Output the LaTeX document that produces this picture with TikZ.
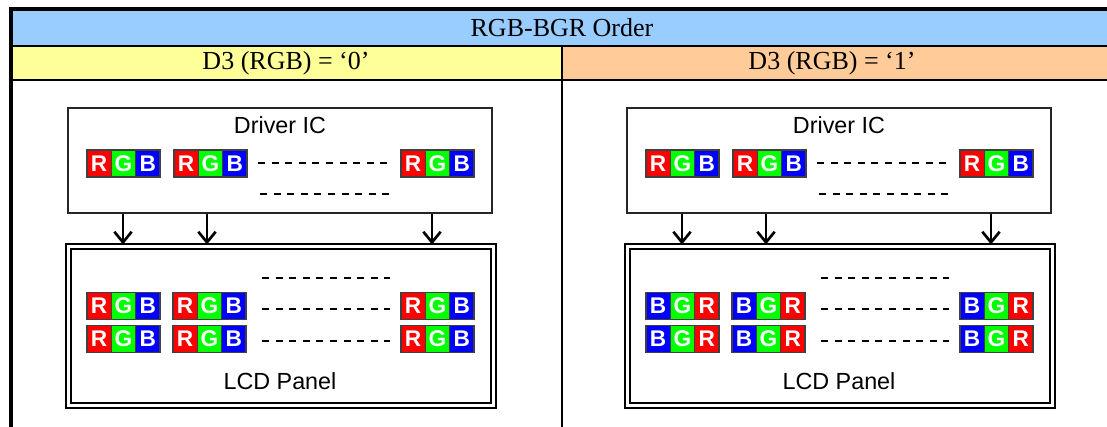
\documentclass[tikz,border=0pt]{standalone}
\usepackage{fontspec}
\setmainfont{Liberation Serif}
\newfontfamily\arialfont{Liberation Sans}
\usetikzlibrary{arrows.meta}
\definecolor{hdrblue}{HTML}{99CCFF}
\definecolor{hdryellow}{HTML}{FFFF99}
\definecolor{hdrorange}{HTML}{FFCC99}
\definecolor{pxred}{HTML}{FF0000}
\definecolor{pxgreen}{HTML}{00FF00}
\definecolor{pxblue}{HTML}{0000FF}
\newcommand\rgbgrp[4]{%
  \foreach \t/\c [count=\i from 0] in {#4}{%
    \node[pixcell, fill=\c] (#1-\i) at ({#2+12.17+\i*24.33}, #3) {\t};
  }%
}
\tikzset{
  pixcell/.style={draw=black!75, line width=0.9pt, minimum width=18.25pt, minimum height=20.25pt,
    inner sep=0pt, text=white, font=\arialfont\bfseries\fontsize{17}{17}\selectfont},
  hdr/.style={font=\fontsize{19.5}{19.5}\selectfont, inner sep=0pt},
  lbl/.style={font=\arialfont\fontsize{17.5}{17.5}\selectfont, inner sep=0pt},
  drvbox/.style={draw=black!85, line width=1.1pt, minimum width=318pt, minimum height=78.75pt, inner sep=0pt},
  lcdbox/.style={draw=black, double=white, line width=1.4pt, double distance=2.2pt,
    minimum width=318.75pt, minimum height=119.25pt, inner sep=0pt},
  arr/.style={line width=1.5pt, -{Straight Barb[length=8pt,width=13pt,line width=2pt]}},
  dashln/.style={line width=1.4pt, dash pattern=on 5.3pt off 4.9pt}
}
\begin{document}
\begin{tikzpicture}[x=0.75pt, y=-0.75pt]
\useasboundingbox (0,0) rectangle (1107,427);
\clip (0,0) rectangle (1107,427);
\fill[white] (0,0) rectangle (1107,427);
% header bands
\fill[hdrblue] (11,9) rectangle (1120,46);
\fill[hdryellow] (11,46) rectangle (562,80);
\fill[hdrorange] (562,46) rectangle (1120,80);
\draw[line width=1.5pt] (11,46) -- (1120,46);
\draw[line width=1.5pt] (11,80) -- (1120,80);
\draw[line width=1.5pt] (562,46) -- (562,440);
\draw[line width=3pt] (11,440) -- (11,9) -- (1120,9);
\node[hdr] (title) at (562,28) {RGB-BGR Order};
\node[hdr] (hL) at (286,63) {D3 (RGB) = ‘0’};
\node[hdr] (hR) at (832,63) {D3 (RGB) = ‘1’};
% ---------- left panel ----------
\node[drvbox] (drvL) at (280,160.5) {};
\node[lbl] (drvLt) at (280,125) {Driver IC};
\rgbgrp{dL1}{87}{163.5}{R/pxred,G/pxgreen,B/pxblue}
\rgbgrp{dL2}{174}{163.5}{R/pxred,G/pxgreen,B/pxblue}
\rgbgrp{dL3}{401}{163.5}{R/pxred,G/pxgreen,B/pxblue}
\draw[dashln] (258,163) -- (388,163);
\draw[dashln] (260,194) -- (390,194);
\node[lcdbox] (lcdL) at (281,326) {};
\node[lbl] (lcdLt) at (280,381) {LCD Panel};
\rgbgrp{pL1}{87}{306}{R/pxred,G/pxgreen,B/pxblue}
\rgbgrp{pL2}{173}{306}{R/pxred,G/pxgreen,B/pxblue}
\rgbgrp{pL3}{401}{306}{R/pxred,G/pxgreen,B/pxblue}
\rgbgrp{pL4}{87}{339}{R/pxred,G/pxgreen,B/pxblue}
\rgbgrp{pL5}{173}{339}{R/pxred,G/pxgreen,B/pxblue}
\rgbgrp{pL6}{401}{339}{R/pxred,G/pxgreen,B/pxblue}
\draw[dashln] (262,278) -- (390,278);
\draw[dashln] (262,309) -- (390,309);
\draw[dashln] (262,341) -- (390,341);
\coordinate (aL1) at (123,0);
\coordinate (aL2) at (207,0);
\coordinate (aL3) at (432,0);
\foreach \a in {aL1,aL2,aL3}{
  \draw[arr] (\a |- drvL.south) -- ([yshift=0.8pt]\a |- lcdL.north);
}
% ---------- right panel ----------
\node[drvbox] (drvR) at (839,160.5) {};
\node[lbl] (drvRt) at (839,125) {Driver IC};
\rgbgrp{dR1}{646}{163.5}{R/pxred,G/pxgreen,B/pxblue}
\rgbgrp{dR2}{733}{163.5}{R/pxred,G/pxgreen,B/pxblue}
\rgbgrp{dR3}{960}{163.5}{R/pxred,G/pxgreen,B/pxblue}
\draw[dashln] (817,163) -- (947,163);
\draw[dashln] (819,194) -- (949,194);
\node[lcdbox] (lcdR) at (840,326) {};
\node[lbl] (lcdRt) at (839,381) {LCD Panel};
\rgbgrp{pR1}{646}{306}{B/pxblue,G/pxgreen,R/pxred}
\rgbgrp{pR2}{732}{306}{B/pxblue,G/pxgreen,R/pxred}
\rgbgrp{pR3}{960}{306}{B/pxblue,G/pxgreen,R/pxred}
\rgbgrp{pR4}{646}{339}{B/pxblue,G/pxgreen,R/pxred}
\rgbgrp{pR5}{732}{339}{B/pxblue,G/pxgreen,R/pxred}
\rgbgrp{pR6}{960}{339}{B/pxblue,G/pxgreen,R/pxred}
\draw[dashln] (821,278) -- (949,278);
\draw[dashln] (821,309) -- (949,309);
\draw[dashln] (821,341) -- (949,341);
\coordinate (aR1) at (682,0);
\coordinate (aR2) at (766,0);
\coordinate (aR3) at (991,0);
\foreach \a in {aR1,aR2,aR3}{
  \draw[arr] (\a |- drvR.south) -- ([yshift=0.8pt]\a |- lcdR.north);
}
\end{tikzpicture}
\end{document}
